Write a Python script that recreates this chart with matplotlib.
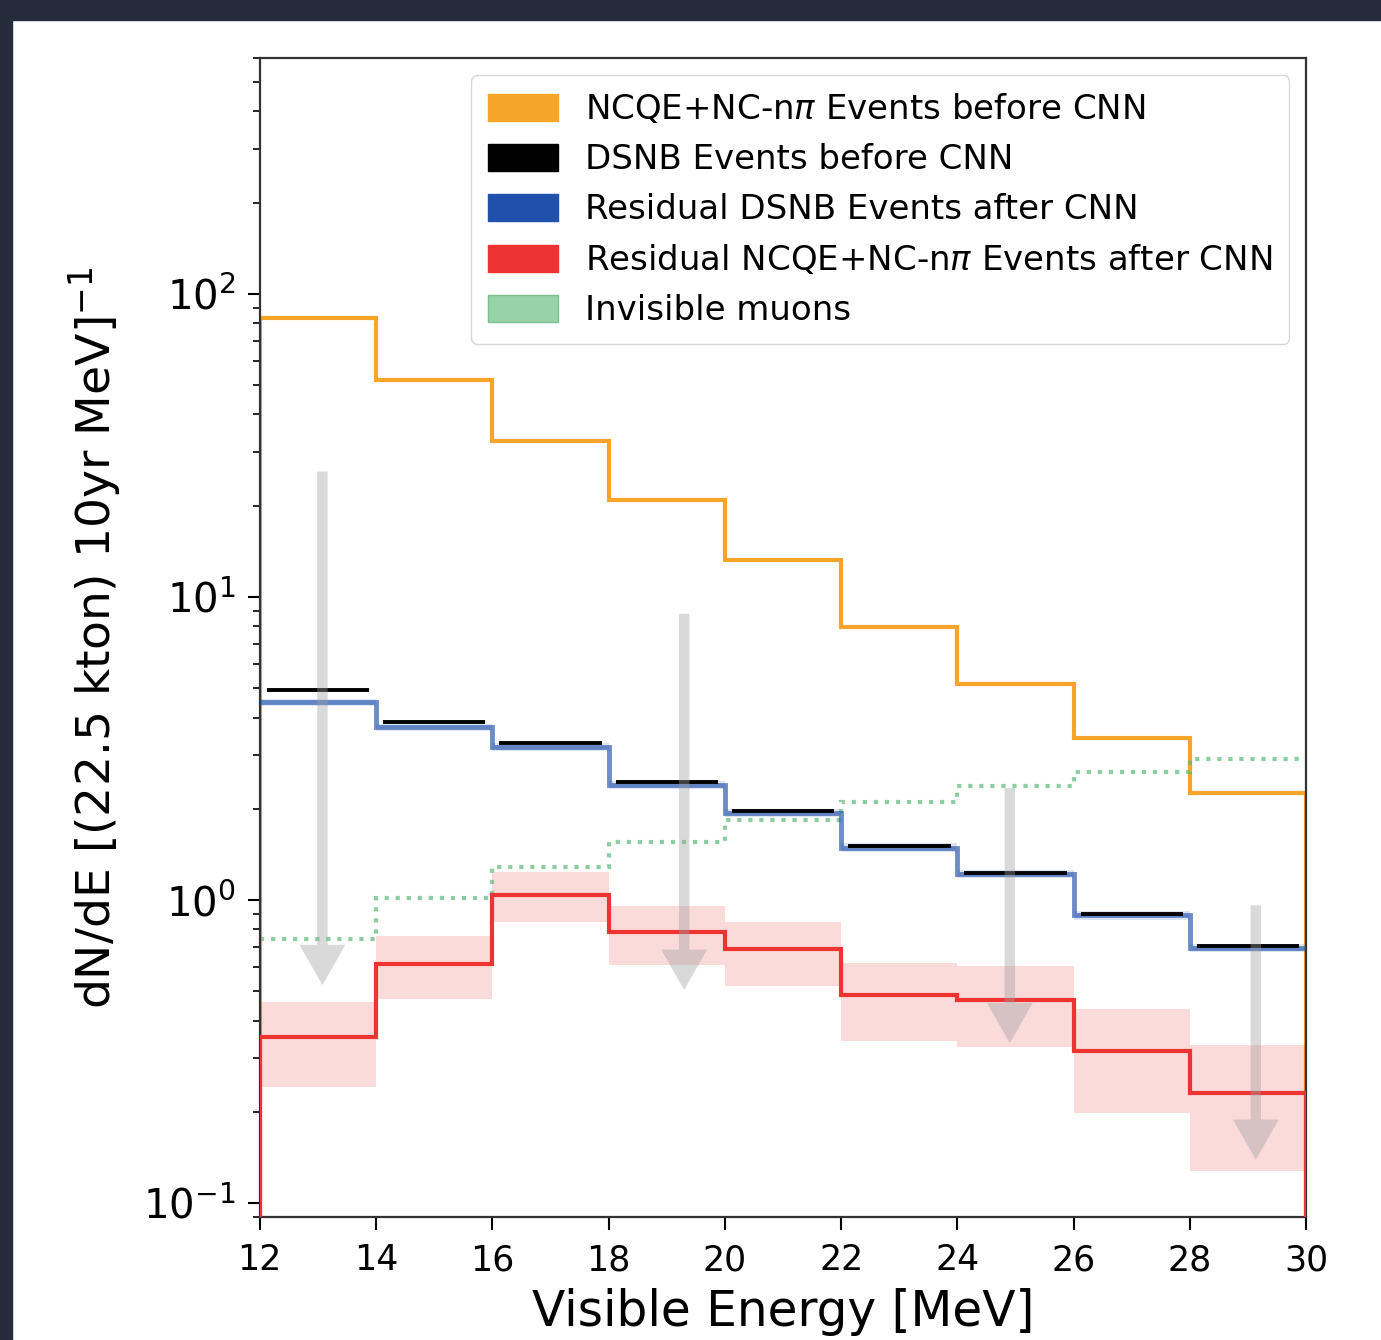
import numpy as np
import matplotlib
matplotlib.use("Agg")
import matplotlib.pyplot as plt
from matplotlib.patches import Patch, Rectangle

# bin edges in visible energy [MeV]
edges = np.arange(12, 31, 2)

# NCQE + NC-npi before CNN
ncqe_before = [83.4, 52.0, 32.7, 20.9, 13.2, 7.96, 5.16, 3.43, 2.25]
# DSNB before CNN
dsnb_before = [4.93, 3.87, 3.30, 2.45, 1.97, 1.51, 1.23, 0.90, 0.705]
# residual DSNB after CNN (+ thin band)
dsnb_after = [4.50, 3.72, 3.20, 2.40, 1.94, 1.49, 1.22, 0.89, 0.695]
dsnb_after_lo = [4.38, 3.62, 3.11, 2.33, 1.88, 1.44, 1.18, 0.86, 0.672]
dsnb_after_hi = [4.62, 3.82, 3.29, 2.47, 2.00, 1.54, 1.26, 0.92, 0.718]
# residual NCQE after CNN with band
ncqe_after = [0.353, 0.615, 1.04, 0.784, 0.69, 0.486, 0.468, 0.318, 0.231]
ncqe_after_lo = [0.242, 0.471, 0.846, 0.61, 0.52, 0.343, 0.327, 0.198, 0.128]
ncqe_after_hi = [0.460, 0.760, 1.24, 0.955, 0.846, 0.62, 0.605, 0.437, 0.332]
# invisible muons
inv_muons = [0.743, 1.016, 1.285, 1.55, 1.84, 2.11, 2.38, 2.64, 2.92]

# gray reduction arrows: (x, start, end)
arrow_x = [13.08, 19.30, 24.90, 29.13]
arrow_top = [25.9, 8.79, 2.34, 0.96]
arrow_tip = [0.524, 0.505, 0.337, 0.139]

c_orange = '#f7a42a'
c_blue = '#1f50aa'
c_red = '#ee3333'
c_green = '#5cb87a'

fig = plt.figure(figsize=(13.81, 13.4), dpi=100)
fig.patches.append(Rectangle((0, 1 - 20/1340), 1, 20/1340, transform=fig.transFigure,
                             color='#262b3c', zorder=0))
fig.patches.append(Rectangle((0, 0), 12/1381, 1, transform=fig.transFigure,
                             color='#262b3c', zorder=0))

ax = fig.add_axes([0.188, 0.0918, 0.758, 0.865])
ax.set_yscale('log')

base = 1e-3
ax.stairs(ncqe_before, edges, baseline=base, color=c_orange, lw=3)

for i in range(len(dsnb_before)):
    ax.hlines(dsnb_before[i], edges[i] + 0.12, edges[i + 1] - 0.12, color='black', lw=2.8, zorder=4)

ax.stairs(dsnb_after_hi, edges, baseline=dsnb_after_lo, fill=True, color=c_blue, alpha=0.15, lw=0)
ax.stairs(dsnb_after, edges, baseline=None, color=c_blue, lw=3.5, alpha=0.65, zorder=3)

ax.stairs(ncqe_after_hi, edges, baseline=ncqe_after_lo, fill=True, color=c_red, alpha=0.18, lw=0)
ax.stairs(ncqe_after, edges, baseline=base, color=c_red, lw=3, zorder=3)

ax.stairs(inv_muons, edges, baseline=None, color=c_green, lw=3, ls=':', alpha=0.7)

for x, y0, y1 in zip(arrow_x, arrow_top, arrow_tip):
    ax.annotate('', xy=(x, y1), xytext=(x, y0),
                arrowprops=dict(arrowstyle='simple,head_length=2.9,head_width=3.3,tail_width=0.75',
                                mutation_scale=10, color='#a0a0a0', alpha=0.4, lw=0,
                                shrinkA=0, shrinkB=0), zorder=5)

ax.set_xlim(12, 30)
ax.set_ylim(0.09, 600)
ax.set_xticks(np.arange(12, 31, 2))
ax.tick_params(axis='both', which='major', length=9, width=1.5)
ax.tick_params(axis='x', which='major', labelsize=25, pad=10)
ax.tick_params(axis='y', which='major', labelsize=29, pad=8)
ax.tick_params(axis='both', which='minor', length=5, width=1.2)
for s in ax.spines.values():
    s.set_linewidth(1.6)
    s.set_color('#333333')

ax.set_xlabel('Visible Energy [MeV]', fontsize=35, labelpad=8)
ax.set_ylabel('dN/dE [(22.5 kton) 10yr MeV]$^{-1}$', fontsize=34, labelpad=14)

handles = [Patch(color=c_orange), Patch(color='black'), Patch(color=c_blue),
           Patch(color=c_red), Patch(facecolor='#98d3a8', edgecolor='#7cc090')]
labels = ['NCQE+NC-n$\\pi$ Events before CNN', 'DSNB Events before CNN',
          'Residual DSNB Events after CNN', 'Residual NCQE+NC-n$\\pi$ Events after CNN',
          'Invisible muons']
ax.legend(handles, labels, loc='upper right', fontsize=24.5, handlelength=2.05,
          handleheight=0.85, handletextpad=0.8, labelspacing=0.5, borderaxespad=0.5,
          borderpad=0.5)

plt.savefig('out.png', dpi=100)
